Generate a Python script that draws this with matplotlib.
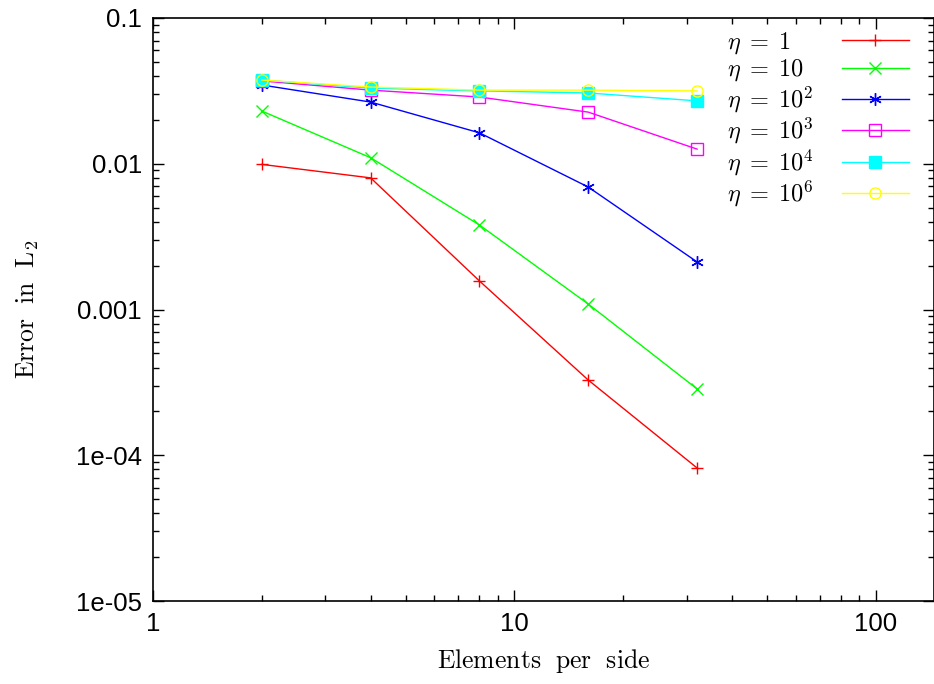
import matplotlib
matplotlib.use('Agg')
from matplotlib import pyplot as plt
from matplotlib.ticker import LogLocator, FixedLocator, FixedFormatter, NullFormatter

plt.rcParams['mathtext.fontset'] = 'cm'

elements = [2, 4, 8, 16, 32]
labels = [r'$\eta\;=\;1$', r'$\eta\;=\;10$', r'$\eta\;=\;10^2$',
          r'$\eta\;=\;10^3$', r'$\eta\;=\;10^4$', r'$\eta\;=\;10^6$']
err_eta1 = [0.0099, 0.0080, 0.00157, 0.000328, 0.0000818]
err_eta10 = [0.0230, 0.0110, 0.0038, 0.00109, 0.000285]
err_eta1e2 = [0.0347, 0.0265, 0.0163, 0.00692, 0.00212]
err_eta1e3 = [0.0370, 0.0320, 0.0287, 0.0226, 0.0126]
err_eta1e4 = [0.0375, 0.0330, 0.0316, 0.0306, 0.0270]
err_eta1e6 = [0.0375, 0.0336, 0.0320, 0.0320, 0.0316]

series = [err_eta1, err_eta10, err_eta1e2, err_eta1e3, err_eta1e4, err_eta1e6]
colors = ['#ff0000', '#00ff00', '#0000ff', '#ff00ff', '#00ffff', '#ffff00']
markers = ['+', 'x', (6, 2, 0), 's', 's', 'o']
fills = ['full', 'full', 'full', 'none', 'full', 'none']
sizes = [9, 8, 9, 8, 8, 8]

fig = plt.figure(figsize=(9.34, 6.84), dpi=100)
ax = fig.add_axes([0.1638, 0.1213, 0.8362, 0.8524])

for ys, lab, c, m, f, s in zip(series, labels, colors, markers, fills, sizes):
    ax.plot(elements, ys, color=c, marker=m, fillstyle=f, markersize=s,
            markeredgewidth=1.0, linewidth=1.0, label=lab)

ax.set_xscale('log')
ax.set_yscale('log')
ax.set_xlim(1, 144.7)
ax.set_ylim(1e-5, 0.1)

ax.xaxis.set_major_locator(FixedLocator([1, 10, 100]))
ax.xaxis.set_major_formatter(FixedFormatter(['1', '10', '100']))
ax.xaxis.set_minor_locator(LogLocator(base=10, subs=range(2, 10)))
ax.xaxis.set_minor_formatter(NullFormatter())
ax.yaxis.set_major_locator(FixedLocator([1e-5, 1e-4, 1e-3, 1e-2, 1e-1]))
ax.yaxis.set_major_formatter(FixedFormatter(['1e-05', '1e-04', '0.001', '0.01', '0.1']))
ax.yaxis.set_minor_locator(LogLocator(base=10, subs=range(2, 10)))
ax.yaxis.set_minor_formatter(NullFormatter())

ax.tick_params(which='both', direction='in', top=True, right=True, width=1.0)
ax.tick_params(which='major', length=8, pad=8, labelsize=18.5,
               labelfontfamily='Liberation Sans')
ax.tick_params(which='minor', length=4)
for sp in ax.spines.values():
    sp.set_linewidth(1.2)

ax.set_xlabel(r'$\mathrm{Elements\ \ per\ \ side}$', fontsize=18.5, labelpad=8)
ax.set_ylabel(r'$\mathrm{Error\ \ in\ \ L_2}$', fontsize=18.5)
ax.yaxis.set_label_coords(-0.143, 0.5)

# legend: texts left-aligned, line samples to the right -> two legends sharing rows
handles, labs = ax.get_legend_handles_labels()
common = dict(frameon=False, fontsize=17.5, labelspacing=0.05, borderaxespad=0.0)
leg_lines = ax.legend(handles, labs, loc='upper right', bbox_to_anchor=(0.98, 0.997),
                      markerfirst=False, handlelength=2.75, handletextpad=0.0, **common)
for t in leg_lines.get_texts():
    t.set_alpha(0.0)
ax.add_artist(leg_lines)
leg_text = ax.legend(handles, labs, loc='upper left', bbox_to_anchor=(0.722, 0.997),
                     handlelength=0.0, handletextpad=0.0, **common)
for h in leg_text.legend_handles:
    h.set_visible(False)

fig.savefig('out.png', dpi=100)
